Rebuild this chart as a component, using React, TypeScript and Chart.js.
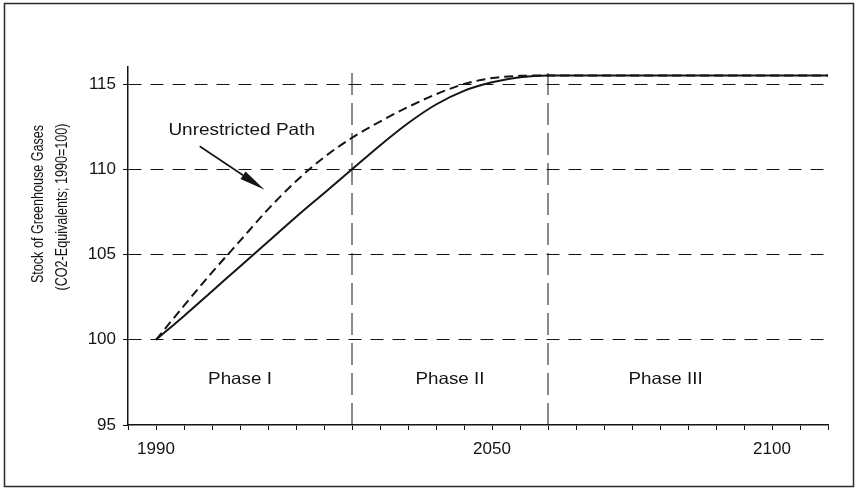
import React, { useEffect, useRef } from 'react';
import { Chart, registerables } from 'chart.js';

Chart.register(...registerables);

// ---- data ----
const years = [1990, 1995, 2000, 2005, 2010, 2015, 2020, 2025, 2030, 2035, 2040, 2045, 2050, 2055, 2060, 2065, 2070, 2075, 2080, 2085, 2090, 2095, 2100, 2105, 2110];
const restrictedPath = [100, 101.4, 102.85, 104.3, 105.75, 107.2, 108.6, 110.0, 111.4, 112.7, 113.8, 114.6, 115.1, 115.4, 115.5, 115.5, 115.5, 115.5, 115.5, 115.5, 115.5, 115.5, 115.5, 115.5, 115.5];
const unrestrictedPath = [100, 102.0, 103.95, 105.8, 107.65, 109.3, 110.7, 111.85, 112.8, 113.65, 114.4, 115.0, 115.35, 115.48, 115.5, 115.5, 115.5, 115.5, 115.5, 115.5, 115.5, 115.5, 115.5, 115.5, 115.5];

const phaseBoundaries = [2025, 2060];
const phaseLabels = ['Phase I', 'Phase II', 'Phase III'];
const phaseLabelYears = [2005, 2042.5, 2081];
const phaseLabelValue = 97.7;

const xTickLabels = [1990, 2050, 2100];
const yTicks = [95, 100, 105, 110, 115];
const xRange = [1985, 2110];
const yRange = [95, 116];

const yTitleLines = ['Stock of Greenhouse Gases', '(CO2-Equivalents; 1990=100)'];
const annotationText = 'Unrestricted Path';
const annotationTextAt = [2005.3, 112.25];
const arrowFrom = [1997.8, 111.35];
const arrowTo = [2009.4, 108.8];

const FONT = '"Liberation Sans", Arial, Helvetica, sans-serif';
const INK = '#141414';

function drawStretched(ctx: CanvasRenderingContext2D, text: string, x: number, y: number, sx: number, sy: number, rot: number) {
  ctx.save();
  ctx.translate(x, y);
  ctx.rotate(rot);
  ctx.scale(sx, sy);
  ctx.fillText(text, 0, 0);
  ctx.restore();
}

const decorPlugin = {
  id: 'decor',
  afterDraw(chart: any) {
    const ctx: CanvasRenderingContext2D = chart.ctx;
    const xs = chart.scales.x;
    const ys = chart.scales.y;
    ctx.save();
    // outer frame
    ctx.strokeStyle = '#2a2a2a';
    ctx.lineWidth = 1.5;
    ctx.strokeRect(4.5, 3.5, 849, 483);

    ctx.fillStyle = INK;
    ctx.textAlign = 'center';
    ctx.textBaseline = 'middle';

    // y axis title (two lines, rotated)
    ctx.font = `12.6px ${FONT}`;
    drawStretched(ctx, yTitleLines[0], 38, 204, 1, 1.3, -Math.PI / 2);
    drawStretched(ctx, yTitleLines[1], 62.5, 207, 1, 1.3, -Math.PI / 2);

    // phase labels
    ctx.font = `16.5px ${FONT}`;
    phaseLabels.forEach((lbl, i) => {
      drawStretched(ctx, lbl, xs.getPixelForValue(phaseLabelYears[i]), ys.getPixelForValue(phaseLabelValue), 1.14, 1, 0);
    });

    // annotation
    drawStretched(ctx, annotationText, xs.getPixelForValue(annotationTextAt[0]), ys.getPixelForValue(annotationTextAt[1]), 1.15, 1, 0);

    const x1 = xs.getPixelForValue(arrowFrom[0]);
    const y1 = ys.getPixelForValue(arrowFrom[1]);
    const x2 = xs.getPixelForValue(arrowTo[0]);
    const y2 = ys.getPixelForValue(arrowTo[1]);
    const ang = Math.atan2(y2 - y1, x2 - x1);
    const headLen = 26;
    const headHalf = 4.5;
    const bx = x2 - headLen * Math.cos(ang);
    const by = y2 - headLen * Math.sin(ang);
    ctx.strokeStyle = INK;
    ctx.lineWidth = 1.6;
    ctx.beginPath();
    ctx.moveTo(x1, y1);
    ctx.lineTo(bx, by);
    ctx.stroke();
    ctx.beginPath();
    ctx.moveTo(x2, y2);
    ctx.lineTo(bx + headHalf * Math.sin(ang), by - headHalf * Math.cos(ang));
    ctx.lineTo(bx - headHalf * Math.sin(ang), by + headHalf * Math.cos(ang));
    ctx.closePath();
    ctx.fill();
    ctx.restore();
  },
};

export default function App() {
  const ref = useRef<HTMLCanvasElement | null>(null);

  useEffect(() => {
    if (!ref.current) return;
    const phaseDatasets = phaseBoundaries.map((yr) => ({
      label: 'boundary ' + yr,
      data: [{ x: yr, y: yRange[0] }, { x: yr, y: yRange[1] }],
      borderColor: INK,
      borderWidth: 1,
      borderDash: [22, 8],
      pointRadius: 0,
      tension: 0,
    }));
    const chart = new Chart(ref.current, {
      type: 'line',
      data: {
        datasets: [
          {
            label: 'Restricted Path',
            data: years.map((y, i) => ({ x: y, y: restrictedPath[i] })),
            borderColor: INK,
            borderWidth: 2,
            pointRadius: 0,
            cubicInterpolationMode: 'monotone',
          },
          {
            label: 'Unrestricted Path',
            data: years.map((y, i) => ({ x: y, y: unrestrictedPath[i] })),
            borderColor: INK,
            borderWidth: 2,
            borderDash: [9, 5],
            pointRadius: 0,
            cubicInterpolationMode: 'monotone',
          },
          ...phaseDatasets,
        ] as any,
      },
      options: {
        responsive: false,
        animation: false,
        devicePixelRatio: 1,
        layout: { padding: { left: 0, right: 31, top: 67, bottom: 0 } },
        plugins: {
          legend: { display: false },
          tooltip: { enabled: false },
          title: { display: false },
        },
        scales: {
          x: {
            type: 'linear',
            min: xRange[0],
            max: xRange[1],
            afterFit: (axis: any) => { axis.height = 65; },
            ticks: {
              stepSize: 5,
              autoSkip: false,
              maxRotation: 0,
              padding: 9,
              color: INK,
              font: { family: FONT, size: 17 },
              callback: (v: any) => (xTickLabels.includes(Number(v)) ? String(v) : ''),
            },
            grid: { drawOnChartArea: false, drawTicks: true, tickLength: 5, color: INK, tickColor: INK },
            border: { color: INK, width: 1.5 },
          },
          y: {
            type: 'linear',
            min: yRange[0],
            max: yRange[1],
            afterFit: (axis: any) => { axis.width = 128; },
            afterBuildTicks: (axis: any) => { axis.ticks = yTicks.map((v) => ({ value: v })); },
            ticks: {
              padding: 7,
              color: INK,
              font: { family: FONT, size: 17 },
              callback: (v: any) => String(v),
            },
            grid: {
              drawTicks: true,
              tickLength: 5,
              lineWidth: 1,
              color: (c: any) => (c.tick && c.tick.value === yRange[0] ? 'rgba(0,0,0,0)' : INK),
              tickColor: INK,
            },
            border: { color: INK, width: 1.5, dash: [13, 9] },
          },
        },
      } as any,
      plugins: [decorPlugin],
    });
    return () => chart.destroy();
  }, []);

  return (
    <div style={{ position: 'fixed', left: 0, top: 0, width: 859, height: 490, background: '#fff' }}>
      <canvas ref={ref} width={859} height={490} style={{ display: 'block' }} />
    </div>
  );
}
